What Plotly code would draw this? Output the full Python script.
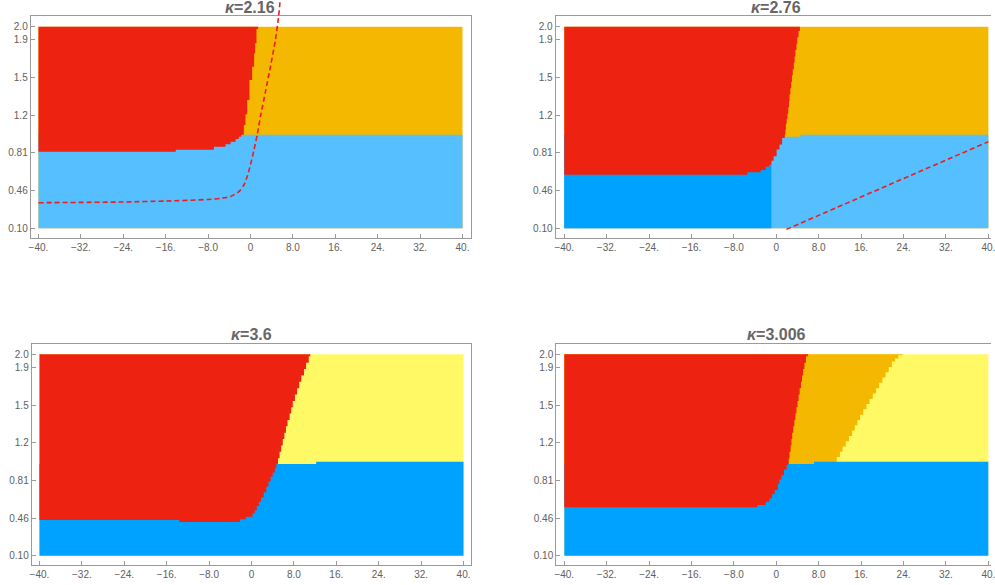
import plotly.graph_objects as go

# ---------------- shared axis data ----------------
X_LIMITS = [-40, 40]
Y_LIMITS = [0.1, 2.0]
X_TICKS = [-40, -32, -24, -16, -8, 0, 8, 16, 24, 32, 40]
X_TICK_LABELS = ["\u221240.", "\u221232.", "\u221224.", "\u221216.", "\u22128.0", "0", "8.0", "16.", "24.", "32.", "40."]
Y_TICKS = [0.1, 0.455, 0.81, 1.165, 1.52, 1.875, 2.0]
Y_TICK_LABELS = ["0.10", "0.46", "0.81", "1.2", "1.5", "1.9", "2.0"]
KAPPAS = ["2.16", "2.76", "3.6", "3.006"]

# ---------------- panel 1 : kappa = 2.16 ----------------
P1_RED_X = [-40, -14.1, -6.9, -4.7, -3.75, -2.8, -2.2, -1.75, -1.25, -0.94, -0.62, -0.19, 0.31, 0.69, 0.88, 1.13, 1.44]
P1_RED_Y = [0.822, 0.841, 0.869, 0.892, 0.916, 0.942, 0.963, 0.982, 1.074, 1.174, 1.309, 1.498, 1.623, 1.749, 1.844, 1.978, 2.0]
P1_BLUE_TOP_X = [-40, 40]
P1_BLUE_TOP_Y = [0.982, 0.982]
P1_CURVE_X = [-40, -24, -16, -8, -5.6, -3.75, -2.2, -1.25, -0.63, 0.0, 0.62, 1.3, 1.9, 2.8, 3.75, 4.7, 5.3, 5.6]
P1_CURVE_Y = [0.341, 0.348, 0.357, 0.372, 0.383, 0.400, 0.445, 0.508, 0.586, 0.70, 0.83, 0.99, 1.16, 1.38, 1.62, 1.875, 2.094, 2.25]

# ---------------- panel 2 : kappa = 2.76 ----------------
P2_RED_X = [-40, -5.44, -2.94, -2.0, -1.37, -0.94, -0.5, 0.06, 0.6, 1.1, 1.6, 1.7, 1.8, 1.95, 2.1, 2.25, 2.4, 2.5,
            2.65, 2.8, 2.95, 3.1, 3.3, 3.45, 3.6, 3.8, 3.95, 4.2, 4.45]
P2_RED_Y = [0.605, 0.628, 0.649, 0.681, 0.70, 0.737, 0.779, 0.842, 0.889, 0.952, 0.982, 1.03, 1.08, 1.13, 1.18, 1.24, 1.30, 1.36,
            1.42, 1.48, 1.54, 1.60, 1.66, 1.72, 1.78, 1.84, 1.90, 1.96, 2.0]
P2_BLUE_TOP_X = [-40, 1.44, 4.56, 40]
P2_BLUE_TOP_Y = [0.982, 0.963, 0.982, 0.982]
P2_DARK_BLUE_RIGHT = -0.94
P2_LINE_X = [1.9, 40]
P2_LINE_Y = [0.09, 0.916]

# ---------------- panel 3 : kappa = 3.6 ----------------
P3_RED_X = [-40, -13.6, -2.2, -1.1, 0.2, 0.6, 1.0, 1.4, 1.8, 2.3, 2.8, 3.2, 3.6, 4.0, 4.4, 4.7,
            5.0, 5.3, 5.6, 5.9, 6.2, 6.5, 6.8, 7.2, 7.5, 7.8, 8.2, 8.6, 9.0, 9.4, 9.9, 10.3, 10.8, 11.1]
P3_RED_Y = [0.437, 0.419, 0.444, 0.469, 0.50, 0.53, 0.57, 0.61, 0.65, 0.70, 0.75, 0.80, 0.845, 0.885, 0.925, 0.965,
            1.02, 1.08, 1.14, 1.20, 1.26, 1.32, 1.38, 1.44, 1.50, 1.56, 1.62, 1.68, 1.74, 1.80, 1.86, 1.92, 1.98, 2.0]
P3_BLUE_TOP_X = [-40, 12.2, 40]
P3_BLUE_TOP_Y = [0.965, 0.987, 0.987]

# ---------------- panel 4 : kappa = 3.006 ----------------
P4_RED_X = [-40, -3.6, -2.0, -1.3, -0.8, -0.3, 0.3, 0.6, 0.95, 1.45, 1.95, 2.2,
            2.35, 2.5, 2.7, 2.85, 3.0, 3.2, 3.4, 3.6, 3.8, 4.0, 4.2, 4.4, 4.65, 4.85, 5.05, 5.3, 5.6, 6.0]
P4_RED_Y = [0.557, 0.579, 0.61, 0.64, 0.68, 0.72, 0.78, 0.82, 0.86, 0.91, 0.955, 0.965,
            1.02, 1.08, 1.14, 1.20, 1.26, 1.32, 1.38, 1.44, 1.50, 1.56, 1.62, 1.68, 1.74, 1.80, 1.86, 1.92, 1.98, 2.0]
P4_YELLOW_EDGE_X = [11.4, 12.0, 12.5, 13.1, 13.7, 14.3, 14.8, 15.3, 15.8, 16.4, 17.0, 17.6, 18.2, 18.8, 19.4, 20.0,
                    20.6, 21.2, 21.8, 22.4, 23.0, 23.8]
P4_YELLOW_EDGE_Y = [1.03, 1.08, 1.13, 1.18, 1.23, 1.28, 1.33, 1.38, 1.43, 1.48, 1.53, 1.58, 1.63, 1.68, 1.73, 1.78,
                    1.83, 1.88, 1.93, 1.96, 1.99, 2.0]
P4_BLUE_TOP_X = [-40, 7.1, 40]
P4_BLUE_TOP_Y = [0.965, 0.987, 0.987]

# ---------------- colours ----------------
RED = "#EE2210"
ORANGE = "#F5B800"
LIGHT_BLUE = "#55BFFF"
BLUE = "#00A2FF"
YELLOW = "#FFF965"
DASH_RED = "#EE1C1C"
FRAME = "#9a9a9a"
TEXT = "#606060"
FONT = "Liberation Sans, Arial, sans-serif"

fig = go.Figure()


def poly(xs, ys, color, ax):
    fig.add_trace(go.Scatter(
        x=xs, y=ys, mode="lines", fill="toself", fillcolor=color,
        line=dict(width=0, shape="hv", color=color),
        hoverinfo="skip", showlegend=False,
        xaxis="x" + ax, yaxis="y" + ax))


def rect(x0, x1, y0, y1, color, ax):
    poly([x0, x0, x1, x1], [y0, y1, y1, y0], color, ax)


def blue_poly(top_x, top_y, color, ax):
    xs = [X_LIMITS[0]] + top_x + [X_LIMITS[1]]
    ys = [Y_LIMITS[0]] + top_y + [Y_LIMITS[0]]
    poly(xs, ys, color, ax)


def red_poly(rx, ry, ax):
    poly([X_LIMITS[0]] + rx, [Y_LIMITS[1]] + ry, RED, ax)


# panel 1
rect(X_LIMITS[0], X_LIMITS[1], Y_LIMITS[0], Y_LIMITS[1], ORANGE, "")
blue_poly(P1_BLUE_TOP_X, P1_BLUE_TOP_Y, LIGHT_BLUE, "")
red_poly(P1_RED_X, P1_RED_Y, "")
fig.add_trace(go.Scatter(x=P1_CURVE_X, y=P1_CURVE_Y, mode="lines",
                         line=dict(color=DASH_RED, width=1.6, dash="5px,3px", shape="spline", smoothing=0.6),
                         hoverinfo="skip", showlegend=False, xaxis="x5", yaxis="y5"))

# panel 2
rect(X_LIMITS[0], X_LIMITS[1], Y_LIMITS[0], Y_LIMITS[1], ORANGE, "2")
blue_poly(P2_BLUE_TOP_X, P2_BLUE_TOP_Y, LIGHT_BLUE, "2")
rect(X_LIMITS[0], P2_DARK_BLUE_RIGHT, Y_LIMITS[0], P2_BLUE_TOP_Y[0], BLUE, "2")
red_poly(P2_RED_X, P2_RED_Y, "2")
fig.add_trace(go.Scatter(x=P2_LINE_X, y=P2_LINE_Y, mode="lines",
                         line=dict(color=DASH_RED, width=1.6, dash="5px,3px"),
                         hoverinfo="skip", showlegend=False, xaxis="x2", yaxis="y2"))

# panel 3
rect(X_LIMITS[0], X_LIMITS[1], Y_LIMITS[0], Y_LIMITS[1], YELLOW, "3")
blue_poly(P3_BLUE_TOP_X, P3_BLUE_TOP_Y, BLUE, "3")
red_poly(P3_RED_X, P3_RED_Y, "3")

# panel 4
rect(X_LIMITS[0], X_LIMITS[1], Y_LIMITS[0], Y_LIMITS[1], YELLOW, "4")
poly([X_LIMITS[0], X_LIMITS[0]] + P4_YELLOW_EDGE_X, [Y_LIMITS[1], P4_BLUE_TOP_Y[0]] + P4_YELLOW_EDGE_Y, ORANGE, "4")
blue_poly(P4_BLUE_TOP_X, P4_BLUE_TOP_Y, BLUE, "4")
red_poly(P4_RED_X, P4_RED_Y, "4")

W, H = 995, 585


def xax(left_px, right_px, rng, anchor):
    return dict(domain=[left_px / W, min(right_px / W, 1.0)], range=rng, anchor=anchor,
                showgrid=False, zeroline=False, showline=True, mirror=True,
                linecolor=FRAME, linewidth=1.2, ticks="inside", ticklen=4, tickcolor=FRAME,
                tickmode="array", tickvals=X_TICKS, ticktext=X_TICK_LABELS,
                ticklabeloverflow="allow",
                tickfont=dict(family=FONT, size=10, color=TEXT))


def yax(top_px, bottom_px, rng, anchor, mirror=True):
    return dict(domain=[1 - bottom_px / H, 1 - top_px / H], range=rng, anchor=anchor,
                showgrid=False, zeroline=False, showline=True, mirror=mirror,
                linecolor=FRAME, linewidth=1.2, ticks="inside", ticklen=4, tickcolor=FRAME,
                tickmode="array", tickvals=Y_TICKS, ticktext=Y_TICK_LABELS,
                tickfont=dict(family=FONT, size=10, color=TEXT))


annotations = []
for ax, k, ypx in [("x", KAPPAS[0], 7.5), ("x2", KAPPAS[1], 7.5), ("x3", KAPPAS[2], 334.5), ("x4", KAPPAS[3], 334.5)]:
    annotations.append(dict(text="<b><i>\u03ba</i>=" + k + "</b>", x=0, xref=ax, y=1 - ypx / H, yref="paper",
                            xanchor="center", yanchor="middle", showarrow=False,
                            font=dict(family=FONT, size=16, color="#666666")))

fig.update_layout(
    width=W, height=H, margin=dict(l=0, r=0, t=0, b=0),
    paper_bgcolor="white", plot_bgcolor="rgba(0,0,0,0)",
    showlegend=False,
    xaxis=xax(29, 472, [-41.44, 41.63], "y"),
    yaxis=yax(16, 238, [0.0086, 2.101], "x"),
    xaxis2=xax(557, 995, [-41.63, 40.5], "y2"),
    yaxis2=yax(16, 238, [0.0086, 2.101], "x2", mirror=False),
    xaxis3=xax(30, 472, [-41.44, 41.44], "y3"),
    yaxis3=yax(344, 565, [0.0133, 2.096], "x3"),
    xaxis4=xax(557.7, 995, [-41.5, 40.5], "y4"),
    yaxis4=yax(344, 565, [0.0133, 2.096], "x4", mirror=False),
    xaxis5=dict(domain=[29 / W, 472 / W], range=[-41.44, 41.63], visible=False, anchor="y5", fixedrange=True),
    yaxis5=dict(domain=[1 - 238 / H, 1.0], range=[0.0086, 0.0086 + 238 / 106.1], visible=False, anchor="x5", fixedrange=True),
    annotations=annotations,
)

fig.write_html("out.html", config={"displayModeBar": False},
               post_script="document.body.style.margin='0';document.body.style.overflow='hidden';")
